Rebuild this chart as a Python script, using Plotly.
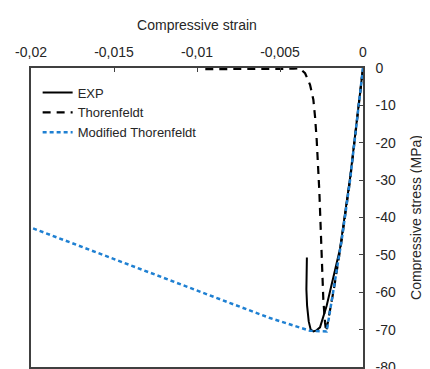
import plotly.graph_objects as go

# ---- data ----
exp_strain = [0, -0.0004, -0.00078, -0.00139, -0.00179, -0.00219, -0.00259, -0.0028,
              -0.00299, -0.00315, -0.00327, -0.00337, -0.00341, -0.0034, -0.00338]
exp_stress = [0, -15, -29.5, -48.5, -56.5, -63.6, -69.4, -70.2,
              -70.5, -70.0, -67.8, -63.5, -59.2, -55.0, -50.7]

thor_strain = [-0.0095, -0.007, -0.005, -0.0042, -0.0038, -0.00349, -0.00319, -0.00299,
               -0.00289, -0.00279, -0.00263, -0.00255, -0.00249, -0.00239, -0.00229,
               -0.00222, -0.00175, -0.00128, -0.00078, -0.0004, 0]
thor_stress = [-0.3, -0.3, -0.3, -0.2, -0.1, -1.4, -4.5, -8.5,
               -13, -19.2, -33, -44, -53, -62, -68,
               -70.5, -59, -45.9, -30, -15.5, 0]

mod_strain = [0, -0.0004, -0.00078, -0.00128, -0.00175, -0.00219, -0.0032, -0.0044,
              -0.0056, -0.008, -0.012, -0.016, -0.02]
mod_stress = [0, -15.5, -30, -45.9, -59, -70.5, -70.3, -68.6,
              -66.9, -62.9, -56.1, -49.4, -42.7]

x_tickvals = [-0.02, -0.015, -0.01, -0.005, 0]
x_ticktext = ["-0,02", "-0,015", "-0,01", "-0,005", "0"]
y_tickvals = [0, -10, -20, -30, -40, -50, -60, -70, -80]
y_ticktext = ["0", "-10", "-20", "-30", "-40", "-50", "-60", "-70", "-80"]

FONT = "Liberation Sans, Arial, sans-serif"
TXT = "#262626"

fig = go.Figure()
fig.add_trace(go.Scatter(x=exp_strain, y=exp_stress, mode="lines", name="EXP",
                         line=dict(color="black", width=2)))
fig.add_trace(go.Scatter(x=thor_strain, y=thor_stress, mode="lines", name="Thorenfeldt",
                         line=dict(color="black", width=2.2, dash="8px,6px")))
fig.add_trace(go.Scatter(x=mod_strain, y=mod_stress, mode="lines", name="Modified Thorenfeldt",
                         line=dict(color="#1f80d2", width=2.5, dash="4px,3px")))

fig.update_layout(
    width=430, height=369,
    margin=dict(l=23, r=75, t=60, b=10, autoexpand=False),
    paper_bgcolor="white", plot_bgcolor="white",
    font=dict(family=FONT, size=14, color=TXT),
    showlegend=True,
    legend=dict(x=0.02, y=0.968, xanchor="left", yanchor="top",
                bgcolor="rgba(0,0,0,0)", font=dict(size=13, color=TXT),
                itemwidth=30, tracegroupgap=0),
    xaxis=dict(
        side="top", range=[-0.02, 0], tickvals=x_tickvals, ticktext=x_ticktext,
        ticks="inside", ticklen=4, tickcolor="#404040", tickwidth=1.2,
        showgrid=False, zeroline=False,
        showline=True, linecolor="#404040", linewidth=1.5, mirror=True,
        ticklabelstandoff=4, automargin=False,
        title=dict(text="Compressive strain", standoff=10, font=dict(size=14)),
    ),
    yaxis=dict(
        side="right", range=[-80, 0], tickvals=y_tickvals, ticktext=y_ticktext,
        ticks="inside", ticklen=4, tickcolor="#404040", tickwidth=1.2,
        showgrid=False, zeroline=False,
        showline=True, linecolor="#404040", linewidth=1.5, mirror=True,
        ticklabelstandoff=8, automargin=False,
        title=dict(text="Compressive stress (MPa)", standoff=16, font=dict(size=14)),
    ),
)

fig.write_html("out.html")
